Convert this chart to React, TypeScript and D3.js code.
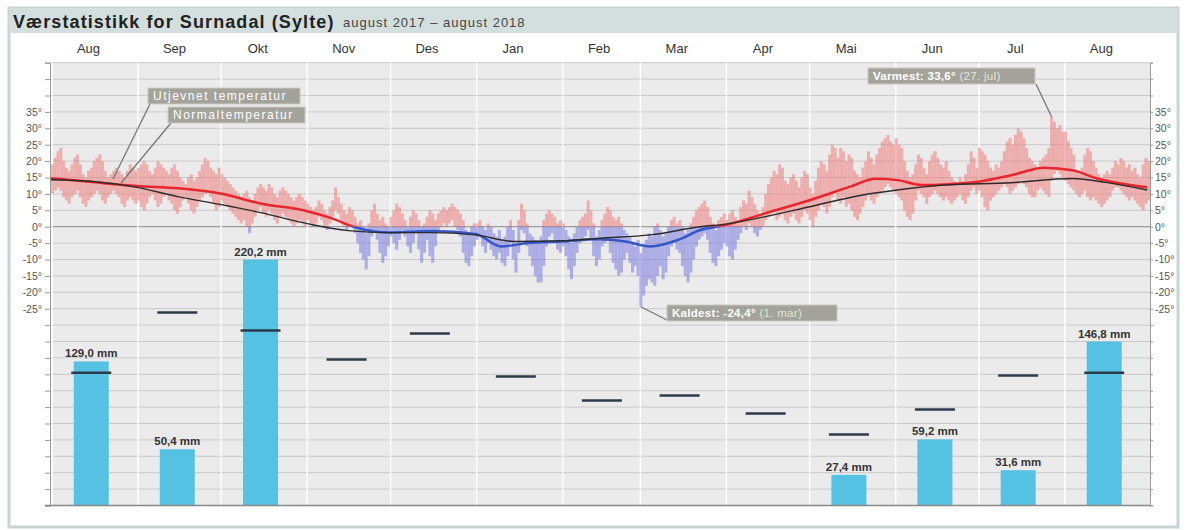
import { useEffect, useRef } from 'react';
import * as d3 from 'd3';

// Colours
const COLOR_BG = "#ebebeb";
const COLOR_GRID = "#c9c9c9";
const COLOR_WARM = "#f07272";
const COLOR_COLD = "#7070e0";
const COLOR_SMOOTH_WARM = "#e8262d";
const COLOR_SMOOTH_COLD = "#3457c8";
const COLOR_NORMAL = "#2b2b2b";
const COLOR_PRECIP = "#55c1e3";
const COLOR_PRECIP_NORMAL = "#2d3a4c";
const COLOR_NOTE = "#a3a39b";

const MONTHS = ["Aug", "Sep", "Okt", "Nov", "Des", "Jan", "Feb", "Mar", "Apr", "Mai", "Jun", "Jul", "Aug"];
const MONTH_STARTS = [
  "2017-08-01", "2017-09-01", "2017-10-01", "2017-11-01", "2017-12-01", "2018-01-01",
  "2018-02-01", "2018-03-01", "2018-04-01", "2018-05-01", "2018-06-01", "2018-07-01", "2018-08-01",
];

// monthly precipitation (mm) and normal precipitation
const PRECIP = [129.0, 50.4, 220.2, null, null, null, null, null, null, 27.4, 59.2, 31.6, 146.8];
const PRECIP_NORMAL = [118.8, 172.8, 156.7, 130.7, 154, 115.5, 94, 98.5, 82.4, 63.6, 86, 116.4, 118.8];

// daily max / min temperature, one row per month
const T_MAX = [
  [19, 21, 23, 24, 20, 18, 17, 19, 21, 22, 19, 16, 15, 17, 18, 20, 21, 22, 20, 17, 15, 16, 17, 18, 17, 16, 15, 17, 19, 18, 17],
  [18, 19, 20, 19, 17, 16, 18, 20, 19, 18, 17, 16, 18, 19, 17, 15, 14, 13, 15, 16, 14, 15, 17, 19, 21, 20, 18, 17, 16, 18],
  [16, 15, 14, 13, 12, 11, 10, 9, 10, 11, 9, 8, 10, 12, 13, 12, 11, 13, 12, 10, 9, 11, 12, 11, 10, 9, 8, 9, 10, 9, 8],
  [7, 6, 5, 6, 8, 7, 5, 4, 6, 8, 12, 9, 7, 5, 4, 6, 5, 3, 1, 2, 0, -2, 1, 5, 7, 4, 2, 3, 1, 0],
  [3, 5, 7, 6, 4, 2, 0, 3, 5, 4, 2, 0, 1, 3, 5, 4, 2, 4, 5, 6, 5, 6, 7, 6, 5, 4, 2, -1, -2, 0, 1],
  [1, 2, 0, -1, 1, 0, -2, -3, -1, -4, -3, 0, 2, -1, -5, 2, 7, 5, 1, -2, -3, -4, -5, -3, 2, 4, 5, 4, 3, 1, 2],
  [1, -1, -3, -5, -2, 0, 2, 3, 4, 8, 5, 1, -3, -1, 2, 4, 6, 5, 3, 2, 3, 1, -1, -2, -3, -5, -6, -4],
  [-8, -6, -4, -2, -3, 0, 1, -1, -3, -2, 0, 2, 3, 1, 2, 0, -2, -1, 1, 3, 5, 6, 7, 8, 6, 3, 1, -1, 2, 3, 4],
  [2, 4, 5, 3, 1, 6, 8, 7, 11, 9, 7, 5, 4, 6, 10, 13, 15, 17, 16, 19, 18, 14, 13, 15, 16, 14, 12, 15, 17, 16],
  [12, 10, 14, 18, 20, 19, 17, 22, 25, 24, 21, 24, 23, 20, 22, 21, 17, 16, 15, 18, 20, 23, 21, 19, 22, 24, 26, 27, 28, 26, 25],
  [27, 25, 24, 20, 17, 15, 16, 19, 22, 21, 18, 16, 20, 22, 23, 21, 19, 18, 20, 17, 15, 14, 13, 15, 14, 16, 19, 23, 21, 18],
  [24, 23, 22, 20, 18, 17, 19, 18, 20, 23, 26, 27, 25, 28, 30, 29, 27, 24, 21, 20, 19, 18, 20, 21, 22, 24, 33.6, 32, 30, 31, 29],
  [29, 26, 24, 22, 17, 16, 18, 22, 24, 23, 20, 18, 16, 15, 16, 17, 16, 18, 20, 19, 21, 20, 18, 19, 17, 18, 16, 15, 19, 21, 20],
];
const T_MIN = [
  [10, 11, 12, 11, 9, 8, 7, 9, 10, 11, 9, 7, 6, 8, 9, 10, 11, 10, 8, 7, 9, 10, 11, 10, 9, 7, 6, 8, 9, 8, 7],
  [8, 6, 5, 7, 9, 10, 8, 6, 7, 9, 10, 8, 7, 5, 4, 6, 8, 9, 7, 5, 4, 6, 8, 9, 10, 11, 9, 7, 5, 6],
  [8, 7, 6, 5, 4, 3, 2, 1, 2, 0, -2, 1, 3, 5, 6, 4, 3, 5, 4, 2, 1, 3, 4, 3, 2, 1, 0, 1, 2, 1, 0],
  [2, 1, 0, 1, 3, 2, 0, -1, 1, 3, 5, 4, 2, 0, -1, 1, 0, -2, -5, -8, -10, -13, -9, -3, -1, -4, -8, -11, -9, -6],
  [-3, -5, -7, -4, -1, -3, -6, -8, -5, -2, -7, -11, -8, -4, -9, -11, -6, -1, 0, 1, 0, 1, 2, 0, -1, -3, -8, -11, -12, -9, -6],
  [-4, -3, -6, -8, -5, -7, -9, -10, -8, -11, -12, -9, -5, -10, -14, -8, -1, -2, -6, -9, -12, -15, -17, -17, -12, -6, -3, -2, -4, -7, -8],
  [-6, -9, -13, -16, -12, -8, -5, -4, -3, -1, -4, -9, -12, -10, -6, -5, -4, -8, -11, -13, -15, -14, -10, -8, -11, -14, -12, -15],
  [-24.4, -21, -18, -16, -17, -18, -15, -12, -16, -14, -9, -6, -5, -7, -8, -12, -15, -17, -14, -10, -6, -4, -3, -2, -4, -8, -11, -12, -9, -7, -5],
  [-6, -9, -10, -7, -4, -2, 0, -1, 1, 0, -2, -3, -1, 0, 2, 3, 4, 5, 2, 3, 4, 2, 1, 3, 4, 2, 1, 3, 5, 4],
  [2, 0, 3, 5, 7, 6, 4, 6, 9, 10, 8, 7, 9, 6, 7, 5, 3, 2, 4, 6, 8, 10, 8, 7, 9, 10, 11, 12, 13, 12, 11],
  [10, 9, 8, 5, 3, 2, 4, 8, 11, 10, 9, 7, 9, 10, 11, 10, 9, 8, 9, 8, 7, 8, 9, 10, 8, 7, 9, 11, 12, 10],
  [11, 9, 6, 5, 8, 9, 10, 11, 12, 13, 12, 10, 11, 12, 13, 14, 13, 12, 10, 9, 9, 11, 12, 11, 10, 9, 14, 16, 17, 16, 15],
  [14, 13, 12, 11, 10, 9, 10, 11, 9, 8, 9, 8, 7, 6, 7, 8, 9, 11, 12, 12, 11, 10, 9, 8, 9, 8, 7, 6, 5, 7, 8],
];

// smoothed ("utjevnet") temperature
const SMOOTH_DATES = [
  "2017-08-01", "2017-08-16", "2017-09-01", "2017-09-16", "2017-10-01", "2017-10-16", "2017-11-01", "2017-11-10",
  "2017-11-18", "2017-12-01", "2017-12-16", "2018-01-01", "2018-01-10", "2018-01-20", "2018-02-01", "2018-02-14",
  "2018-02-24", "2018-03-05", "2018-03-15", "2018-03-23", "2018-04-01", "2018-04-15", "2018-05-01", "2018-05-16",
  "2018-05-25", "2018-06-02", "2018-06-11", "2018-06-19", "2018-07-01", "2018-07-13", "2018-07-25", "2018-08-04",
  "2018-08-13", "2018-08-31",
];
const SMOOTH_TEMP = [
  14.8, 13.6, 12.4, 11.7, 10.1, 7.0, 4.8, 2.6,
  0, -1.8, -1.3, -2.2, -6.0, -5.0, -4.5, -3.8,
  -4.5, -6.0, -4.0, -1.0, 0.5, 4.0, 8.0, 12.2,
  14.6, 14.2, 12.7, 12.9, 13.7, 15.7, 18.0, 17.2,
  14.7, 12.0,
];

// normal temperature
const NORMAL_DATES = [
  "2017-08-01", "2017-08-16", "2017-09-01", "2017-09-16", "2017-10-01", "2017-10-16", "2017-11-01", "2017-11-16",
  "2017-12-01", "2017-12-16", "2018-01-01", "2018-01-15", "2018-02-01", "2018-02-15", "2018-03-05", "2018-03-23",
  "2018-04-01", "2018-04-15", "2018-05-01", "2018-05-20", "2018-06-02", "2018-06-19", "2018-07-13", "2018-08-04",
  "2018-08-16", "2018-08-31",
];
const NORMAL_TEMP = [
  14.3, 13.8, 12.0, 9.1, 6.8, 4.2, 1.0, -1.2,
  -1.8, -1.8, -2.5, -4.5, -4.3, -3.5, -2.5, 0,
  0.8, 3.0, 6.0, 9.6, 11.2, 12.7, 13.4, 14.7,
  13.5, 11.2,
];

const TEMP_LABELS = [35, 30, 25, 20, 15, 10, 5, 0, -5, -10, -15, -20, -25];

const FONT = "'Liberation Sans', Arial, sans-serif";

export default function App() {
  const svgRef = useRef<SVGSVGElement>(null);

  useEffect(() => {
    if (!svgRef.current) return;
    const svg = d3.select(svgRef.current);
    svg.selectAll("*").remove();

    const parse = d3.timeParse("%Y-%m-%d");
    const start = parse("2017-08-01") as Date;
    const end = parse("2018-09-01") as Date;

    const left = 51, right = 1150, top = 62.7, bottom = 505.5;

    const x = d3.scaleTime().domain([start, end]).range([left, right]);
    const yT = d3.scaleLinear().domain([-85, 50]).range([bottom, top]);
    const yP = d3.scaleLinear().domain([0, 396.5]).range([bottom, top]);
    const dayW = x(d3.timeDay.offset(start, 1)) - x(start);

    // frame and title
    svg.append("rect").attr("x", 9).attr("y", 8).attr("width", 1169).attr("height", 519)
      .attr("fill", "#fff").attr("stroke", "#c8d4d4").attr("stroke-width", 3);
    svg.append("rect").attr("x", 9).attr("y", 8).attr("width", 1169).attr("height", 25)
      .attr("fill", "#d3dfdf");
    svg.append("text").attr("x", 13).attr("y", 28)
      .attr("font-family", FONT).attr("font-size", 18).attr("font-weight", "bold").attr("fill", "#222")
      .attr("letter-spacing", 1.1)
      .text("Værstatistikk for Surnadal (Sylte)");
    svg.append("text").attr("x", 343).attr("y", 27)
      .attr("font-family", FONT).attr("font-size", 13).attr("fill", "#444")
      .attr("letter-spacing", 1)
      .text("august 2017 – august 2018");

    // plot background
    svg.append("rect").attr("x", left).attr("y", top).attr("width", right - left).attr("height", bottom - top)
      .attr("fill", COLOR_BG);

    const gridVals = d3.range(-85, 51, 5);
    svg.append("g").selectAll("line").data(gridVals).join("line")
      .attr("x1", left).attr("x2", right)
      .attr("y1", d => yT(d)).attr("y2", d => yT(d))
      .attr("stroke", d => d === 0 ? "#8a8a8a" : COLOR_GRID).attr("stroke-width", 1);

    const monthDates = MONTH_STARTS.map(s => parse(s) as Date);
    svg.append("g").selectAll("line").data(monthDates).join("line")
      .attr("x1", d => x(d) + 1).attr("x2", d => x(d) + 1)
      .attr("y1", top).attr("y2", bottom)
      .attr("stroke", "#fff").attr("stroke-width", 1.5);

    // clips for above / below zero
    const defs = svg.append("defs");
    defs.append("clipPath").attr("id", "above0").append("rect")
      .attr("x", left).attr("y", top).attr("width", right - left).attr("height", yT(0) - top);
    defs.append("clipPath").attr("id", "below0").append("rect")
      .attr("x", left).attr("y", yT(0)).attr("width", right - left).attr("height", bottom - yT(0));

    const days: { date: Date; max: number; min: number }[] = [];
    T_MAX.forEach((row, m) => {
      row.forEach((v, i) => {
        days.push({ date: d3.timeDay.offset(monthDates[m], i), max: v, min: T_MIN[m][i] });
      });
    });

    [["above0", COLOR_WARM], ["below0", COLOR_COLD]].forEach(([clip, color]) => {
      svg.append("g").attr("clip-path", `url(#${clip})`).attr("opacity", 0.5)
        .selectAll("rect").data(days).join("rect")
        .attr("x", d => x(d.date))
        .attr("width", dayW + 0.3)
        .attr("y", d => yT(d.max))
        .attr("height", d => Math.max(1, yT(d.min) - yT(d.max)))
        .attr("fill", color);
    });

    // precipitation bars
    const monthMid = (d: Date, k: number) => x(d3.timeHour.offset(d, Math.round(k * 24)));
    const precip = PRECIP.map((v, i) => ({ v, norm: PRECIP_NORMAL[i], d: monthDates[i] }));
    const barW = 35;
    svg.append("g").selectAll("rect").data(precip.filter(p => p.v != null)).join("rect")
      .attr("x", p => monthMid(p.d, 14.5) - barW / 2)
      .attr("width", barW)
      .attr("y", p => yP(p.v as number))
      .attr("height", p => yP(0) - yP(p.v as number))
      .attr("fill", COLOR_PRECIP);

    svg.append("g").selectAll("text").data(precip.filter(p => p.v != null)).join("text")
      .attr("x", p => monthMid(p.d, 14.5))
      .attr("y", p => yP(p.v as number) - 4)
      .attr("text-anchor", "middle")
      .attr("font-family", FONT).attr("font-size", 11.5).attr("font-weight", "bold").attr("fill", "#333")
      .text(p => d3.format(".1f")(p.v as number).replace(".", ",") + " mm");

    svg.append("g").selectAll("line").data(precip).join("line")
      .attr("x1", p => monthMid(p.d, 14.5) - 20)
      .attr("x2", p => monthMid(p.d, 14.5) + 20)
      .attr("y1", p => yP(p.norm)).attr("y2", p => yP(p.norm))
      .attr("stroke", COLOR_PRECIP_NORMAL).attr("stroke-width", 2.5);

    // smoothed and normal temperature
    const line = d3.line<[Date, number]>()
      .x(d => x(d[0])).y(d => yT(d[1]))
      .curve(d3.curveMonotoneX);
    const smooth: [Date, number][] = SMOOTH_DATES.map((s, i) => [parse(s) as Date, SMOOTH_TEMP[i]]);
    const normal: [Date, number][] = NORMAL_DATES.map((s, i) => [parse(s) as Date, NORMAL_TEMP[i]]);

    [["above0", COLOR_SMOOTH_WARM], ["below0", COLOR_SMOOTH_COLD]].forEach(([clip, color]) => {
      svg.append("path").attr("clip-path", `url(#${clip})`)
        .attr("d", line(smooth) as string)
        .attr("fill", "none").attr("stroke", color).attr("stroke-width", 2.5);
    });
    svg.append("path").attr("d", line(normal) as string)
      .attr("fill", "none").attr("stroke", COLOR_NORMAL).attr("stroke-width", 1.4);

    // axes
    const fmt = (d: d3.NumberValue) => (TEMP_LABELS.includes(+d) ? `${d}°` : "");
    const axL = svg.append("g").attr("transform", `translate(${left - 1},0)`)
      .call(d3.axisLeft(yT).tickValues(gridVals).tickSize(5).tickFormat(fmt));
    const axR = svg.append("g").attr("transform", `translate(${right},0)`)
      .call(d3.axisRight(yT).tickValues(gridVals).tickSize(3).tickFormat(fmt));
    [axL, axR].forEach(ax => {
      ax.select(".domain").attr("stroke", "#999");
      ax.selectAll(".tick line").attr("stroke", "#999");
      ax.selectAll("text").attr("font-family", FONT).attr("font-size", 10.5).attr("fill", "#555");
    });
    axL.selectAll("text").attr("x", -8);
    axR.selectAll("text").attr("x", 5);

    svg.append("line").attr("x1", left - 6).attr("x2", right).attr("y1", bottom).attr("y2", bottom)
      .attr("stroke", "#888").attr("stroke-width", 1.5);

    // month labels
    svg.append("g").selectAll("text").data(monthDates).join("text")
      .attr("x", (d) => monthMid(d, 13.5))
      .attr("y", 53)
      .attr("text-anchor", "middle")
      .attr("font-family", FONT).attr("font-size", 13).attr("fill", "#333")
      .text((_, i) => MONTHS[i]);

    // annotations
    const note = (bx: number, by: number, bw: number, main: string, extra: string, bold: boolean,
      path: [number, number][]) => {
      svg.append("path").attr("d", d3.line()(path) as string)
        .attr("fill", "none").attr("stroke", "#777").attr("stroke-width", 1.3);
      svg.append("rect").attr("x", bx).attr("y", by).attr("width", bw).attr("height", 16)
        .attr("fill", COLOR_NOTE).attr("stroke", "#c9c9c1").attr("stroke-width", 1);
      const t = svg.append("text").attr("x", bx + 5).attr("y", by + 12)
        .attr("font-family", FONT).attr("font-size", bold ? 11.5 : 12).attr("fill", "#fff")
        .attr("letter-spacing", bold ? 0.3 : 1.5);
      t.append("tspan").attr("font-weight", bold ? "bold" : "normal").text(main);
      if (extra) t.append("tspan").attr("fill", "#e4e4dc").text(extra);
    };

    const warm = days.reduce((a, b) => (b.max > a.max ? b : a));
    const cold = days.reduce((a, b) => (b.min < a.min ? b : a));
    const wx = x(warm.date) + dayW / 2, wy = yT(warm.max);
    const cx = x(cold.date) + dayW / 2, cy = yT(cold.min);

    note(148, 88, 152, "Utjevnet temperatur", "", false, [[150, 104], [113, 179]]);
    note(168, 107, 137, "Normaltemperatur", "", false, [[171, 123], [121, 183]]);
    note(868, 68, 167, "Varmest: 33,6°", " (27. jul)", true, [[1036, 84], [wx, wy]]);
    note(667, 305, 170, "Kaldest: -24,4°", " (1. mar)", true, [[cx, cy], [667, 320]]);
  }, []);

  return (
    <svg ref={svgRef} width={1187} height={530}
      style={{ position: 'absolute', left: 0, top: 0, background: '#fff' }} />
  );
}
